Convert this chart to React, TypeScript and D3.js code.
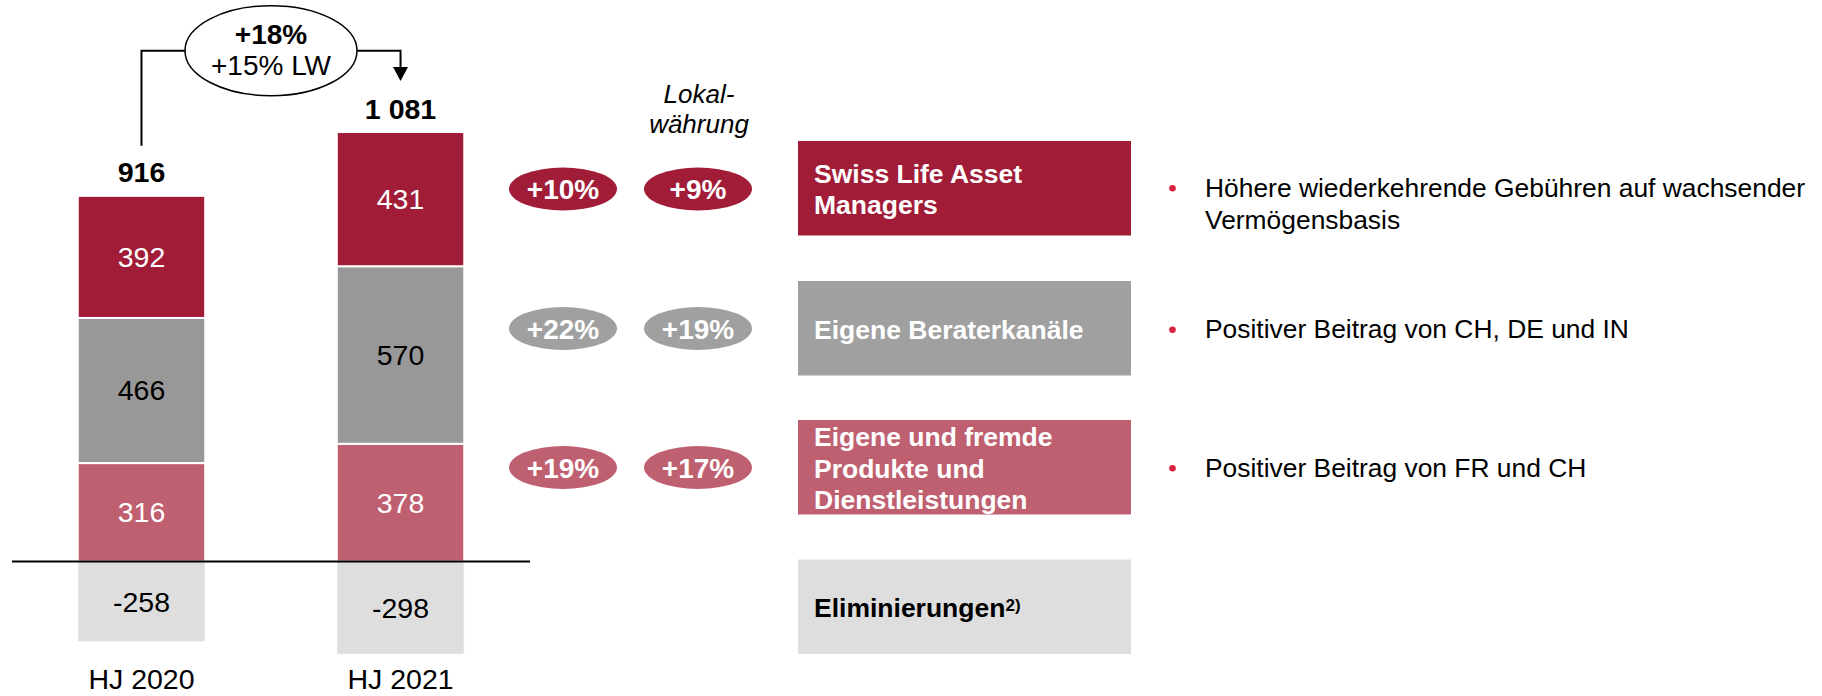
import React from "react";
import * as d3 from "d3";

// ---------- data ----------
const categories = ["HJ 2020", "HJ 2021"];
const produkteValues = [316, 378];
const beraterValues = [466, 570];
const assetValues = [392, 431];
const eliminierungValues = [-258, -298];

const growthCHF = ["+10%", "+22%", "+19%"];
const growthLW = ["+9%", "+19%", "+17%"];
const totalGrowth = "+18%";
const totalGrowthLW = "+15% LW";

const segmentNames = [
  ["Swiss Life Asset", "Managers"],
  ["Eigene Beraterkanäle"],
  ["Eigene und fremde", "Produkte und", "Dienstleistungen"],
  ["Eliminierungen"],
];
const bulletTexts = [
  ["Höhere wiederkehrende Gebühren auf wachsender", "Vermögensbasis"],
  ["Positiver Beitrag von CH, DE und IN"],
  ["Positiver Beitrag von FR und CH"],
];
const localCurrencyLabel = ["Lokal-", "währung"];

// ---------- styles ----------
const FONT = "'Liberation Sans', Arial, Helvetica, sans-serif";
const C_RED = "#A11C37";
const C_GREY = "#989898";
const C_GREY_LEG = "#A0A0A0";
const C_PINK = "#BF6070";
const C_LIGHT = "#DEDEDE";
const C_BULLET = "#D9233F";

const fmt = d3.formatLocale({ decimal: ".", thousands: " ", grouping: [3], currency: ["", ""] }).format(",d");

export default function App() {
  const W = 1822;
  const H = 696;

  const x = d3.scaleBand<string>().domain(categories).range([77.75, 464.25]).paddingInner(0.508).paddingOuter(0);
  const posTotals = categories.map((_, i) => produkteValues[i] + beraterValues[i] + assetValues[i]);
  const y = d3.scaleLinear().domain([0, d3.max(posTotals) as number]).range([561.5, 132]);

  const seriesDefs = [
    { values: produkteValues, fill: C_PINK, text: "#fff" },
    { values: beraterValues, fill: C_GREY, text: "#000" },
    { values: assetValues, fill: C_RED, text: "#fff" },
  ];
  const stacked = d3.stack<number>().keys(["0", "1", "2"]).value((i, k) => seriesDefs[+k].values[i])(
    categories.map((_, i) => i)
  );

  const netTotals = categories.map((_, i) => posTotals[i] + eliminierungValues[i]);
  const bw = x.bandwidth();
  const cx = categories.map((c) => (x(c) as number) + bw / 2);

  // connector
  const topL = y(posTotals[0]) - 50;
  const ellCx = (cx[0] + cx[1]) / 2;
  const ellCy = 50.7;
  const ellRx = 86;
  const ellRy = 45;
  const arrowTip = y(posTotals[1]) - 51;

  // right panel
  const pillRowY = [189, 328.5, 467.5];
  const pillColX = [563, 698];
  const pillColors = [C_RED, C_GREY_LEG, C_PINK];
  const boxFills = [C_RED, C_GREY_LEG, C_PINK, C_LIGHT];
  const boxText = ["#fff", "#fff", "#fff", "#000"];
  const boxTop = [141, 281, 420, 559.5];
  const boxH = 94.5;
  const boxX = 798;
  const boxW = 333;
  const lineH = 31.6;
  const bulletBaselines = [196.7, 338.3, 476.7];

  return (
    <div style={{ position: "absolute", left: 0, top: 0 }}>
      <svg width={W} height={H} style={{ display: "block", fontFamily: FONT }}>
        <rect width={W} height={H} fill="#fff" />

        {/* stacked positive segments */}
        {stacked.map((layer, li) =>
          layer.map((d, i) => {
            const y0 = y(d[0]);
            const y1 = y(d[1]);
            const val = seriesDefs[li].values[i];
            return (
              <g key={`s${li}-${i}`}>
                <rect x={x(categories[i])} y={y1} width={bw} height={y0 - y1} fill={seriesDefs[li].fill} stroke="#fff" strokeWidth={2} />
                <text x={cx[i]} y={(y0 + y1) / 2} dy="0.35em" textAnchor="middle" fontSize={28.5} fill={seriesDefs[li].text}>
                  {val}
                </text>
              </g>
            );
          })
        )}

        {/* negative segments */}
        {eliminierungValues.map((v, i) => (
          <g key={`n${i}`}>
            <rect x={x(categories[i])} y={y(0)} width={bw} height={y(v) - y(0)} fill={C_LIGHT} stroke="#fff" strokeWidth={1} />
            <text x={cx[i]} y={(y(0) + y(v)) / 2} dy="0.35em" textAnchor="middle" fontSize={28.5} fill="#000">
              {v}
            </text>
          </g>
        ))}

        {/* zero line */}
        <line x1={12} x2={530} y1={y(0)} y2={y(0)} stroke="#000" strokeWidth={2} />

        {/* totals */}
        {netTotals.map((t, i) => (
          <text key={`t${i}`} x={cx[i]} y={y(posTotals[i]) - 13.5} textAnchor="middle" fontSize={28.5} fontWeight="bold" fill="#000">
            {fmt(t)}
          </text>
        ))}

        {/* category labels */}
        {categories.map((c, i) => (
          <text key={`c${i}`} x={cx[i]} y={689} textAnchor="middle" fontSize={28.5} fill="#000">
            {c}
          </text>
        ))}

        {/* connector */}
        <path d={`M${cx[0]},${topL} V${ellCy} H${ellCx - ellRx}`} fill="none" stroke="#000" strokeWidth={2} />
        <path d={`M${ellCx + ellRx},${ellCy} H${cx[1]} V${arrowTip - 12}`} fill="none" stroke="#000" strokeWidth={2} />
        <path d={`M${cx[1] - 7.5},${arrowTip - 14} L${cx[1] + 7.5},${arrowTip - 14} L${cx[1]},${arrowTip} Z`} fill="#000" />
        <ellipse cx={ellCx} cy={ellCy} rx={ellRx} ry={ellRy} fill="#fff" stroke="#000" strokeWidth={1.5} />
        <text x={ellCx} y={44} textAnchor="middle" fontSize={28} fontWeight="bold">
          {totalGrowth}
        </text>
        <text x={ellCx} y={75} textAnchor="middle" fontSize={28}>
          {totalGrowthLW}
        </text>

        {/* Lokalwährung header */}
        {localCurrencyLabel.map((s, i) => (
          <text key={`lw${i}`} x={699} y={103 + i * 30} textAnchor="middle" fontSize={26} fontStyle="italic">
            {s}
          </text>
        ))}

        {/* growth pills */}
        {pillRowY.map((py, r) => (
          <g key={`p${r}`}>
            {[growthCHF[r], growthLW[r]].map((label, c) => (
              <g key={`pc${c}`}>
                <ellipse cx={pillColX[c]} cy={py} rx={54} ry={21.5} fill={pillColors[r]} />
                <text x={pillColX[c]} y={py} dy="0.36em" textAnchor="middle" fontSize={28} fontWeight="bold" fill="#fff">
                  {label}
                </text>
              </g>
            ))}
          </g>
        ))}

        {/* legend boxes */}
        {segmentNames.map((lines, i) => {
          const center = boxTop[i] + boxH / 2;
          const first = center + 10.3 - ((lines.length - 1) * lineH) / 2;
          return (
            <g key={`b${i}`}>
              <rect x={boxX} y={boxTop[i]} width={boxW} height={boxH} fill={boxFills[i]} />
              <text fontSize={26.5} fontWeight="bold" fill={boxText[i]}>
                {lines.map((ln, j) => (
                  <tspan key={j} x={814} y={first + j * lineH}>
                    {ln}
                  </tspan>
                ))}
                {i === 3 ? (
                  <tspan fontSize={17} dy={-6}>
                    2)
                  </tspan>
                ) : null}
              </text>
            </g>
          );
        })}

        {/* bullets */}
        {bulletTexts.map((lines, i) => (
          <g key={`bl${i}`}>
            <circle cx={1172.5} cy={bulletBaselines[i] - 8.5} r={3.3} fill={C_BULLET} />
            {lines.map((ln, j) => (
              <text key={j} x={1205} y={bulletBaselines[i] + j * 32.6} fontSize={26.4} fill="#000">
                {ln}
              </text>
            ))}
          </g>
        ))}
      </svg>
    </div>
  );
}
